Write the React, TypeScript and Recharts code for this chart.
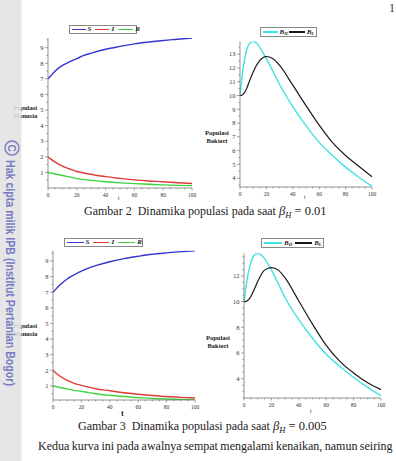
import React from 'react';
import { LineChart, Line, XAxis, YAxis } from 'recharts';

// Human model time grid and SIR trajectories
const tHuman = [0, 2, 5, 10, 15, 20, 25, 30, 40, 50, 60, 70, 80, 90, 100];
const sHigh = [7.0, 7.2, 7.5, 7.86, 8.1, 8.3, 8.5, 8.65, 8.9, 9.08, 9.24, 9.36, 9.46, 9.54, 9.62];
const iHigh = [2.0, 1.85, 1.66, 1.4, 1.22, 1.06, 0.96, 0.88, 0.73, 0.62, 0.52, 0.45, 0.4, 0.34, 0.29];
const rHigh = [1.0, 0.96, 0.9, 0.8, 0.71, 0.6, 0.54, 0.49, 0.4, 0.33, 0.28, 0.24, 0.2, 0.17, 0.15];
const sLow = [7.0, 7.2, 7.48, 7.85, 8.12, 8.35, 8.55, 8.7, 8.95, 9.15, 9.3, 9.43, 9.52, 9.6, 9.66];
const iLow = [2.0, 1.83, 1.62, 1.35, 1.17, 1.04, 0.92, 0.82, 0.69, 0.56, 0.47, 0.39, 0.32, 0.27, 0.23];
const rLow = [1.0, 0.96, 0.9, 0.8, 0.72, 0.65, 0.57, 0.5, 0.4, 0.32, 0.25, 0.2, 0.16, 0.13, 0.11];

// Bacteria model time grid and trajectories
const tBact = [0, 1, 2, 3, 5, 7, 10, 12, 15, 20, 25, 30, 40, 50, 60, 70, 80, 90, 100];
const bhHigh = [10, 10.9, 11.7, 12.35, 13.3, 13.75, 13.92, 13.85, 13.5, 12.66, 11.75, 10.8, 9.2, 7.82, 6.6, 5.65, 4.8, 4.07, 3.42];
const blHigh = [10, 10.0, 10.05, 10.15, 10.5, 11.0, 11.7, 12.1, 12.55, 12.83, 12.66, 12.18, 10.75, 9.27, 7.85, 6.6, 5.65, 4.87, 4.1];
const bhLow = [10, 10.8, 11.55, 12.15, 13.05, 13.55, 13.76, 13.68, 13.35, 12.47, 11.4, 10.3, 8.6, 7.15, 5.9, 4.95, 4.1, 3.35, 2.68];
const blLow = [10, 10.0, 10.05, 10.12, 10.4, 10.85, 11.56, 12.0, 12.45, 12.65, 12.45, 11.85, 10.05, 8.25, 6.6, 5.35, 4.45, 3.7, 3.15];

// Tick labels
const xMajor = [0, 20, 40, 60, 80, 100];
const humanYMajor = [1, 2, 3, 4, 5, 6, 7, 8, 9];
const bactHighYMajor = [4, 5, 6, 7, 8, 9, 10, 11, 12, 13];
const bactLowYMajor = [4, 6, 8, 10, 12];

const SERIF = '"Liberation Serif", "Times New Roman", serif';
const C_S = '#3535d0';
const C_I = '#e03a3a';
const C_R = '#3ed43e';
const C_BH = '#3fe3e3';
const C_BL = '#1a1a1a';
const AXIS = '#666';

const humanRows = (s: number[], i: number[], r: number[]) =>
  tHuman.map((t, k) => ({ t, S: s[k], I: i[k], R: r[k] }));
const bactRows = (bh: number[], bl: number[]) =>
  tBact.map((t, k) => ({ t, BH: bh[k], BL: bl[k] }));

const range = (a: number, b: number, step: number) => {
  const out: number[] = [];
  for (let v = a; v <= b + 1e-9; v += step) out.push(Math.round(v * 100) / 100);
  return out;
};

const isIn = (list: number[], v: number) => list.some((m) => Math.abs(m - v) < 1e-6);

const makeYTick = (majors: number[]) => (props: any) => {
  const { x, y, payload } = props;
  const v = payload.value;
  const major = isIn(majors, v);
  return (
    <g>
      <line x1={x - (major ? 3 : 1.6)} x2={x} y1={y} y2={y} stroke={AXIS} strokeWidth={0.6} />
      {major && (
        <text x={x - 4.5} y={y} dy="0.35em" textAnchor="end" fontSize={6.5} fontFamily={SERIF} fill="#333">
          {v}
        </text>
      )}
    </g>
  );
};

const XTick = (props: any) => {
  const { x, y, payload } = props;
  const v = payload.value;
  const major = isIn(xMajor, v);
  return (
    <g>
      <line x1={x} x2={x} y1={y} y2={y + (major ? 2.5 : 1.4)} stroke={AXIS} strokeWidth={0.6} />
      {major && (
        <text x={x} y={y + 8.5} textAnchor="middle" fontSize={5.5} fontFamily={SERIF} fill="#333">
          {v}
        </text>
      )}
    </g>
  );
};

const xMinorTicks = range(0, 100, 5);

type Item = { color: string; label: React.ReactNode; line: number; gap: number };

const LegendBox = ({ left, top, width, height, items, pad }: { left: number; top: number; width: number; height: number; items: Item[]; pad: number }) => (
  <div
    style={{
      position: 'absolute',
      left,
      top,
      width,
      height,
      boxSizing: 'border-box',
      border: '0.8px solid #888',
      display: 'flex',
      alignItems: 'center',
      paddingLeft: pad,
      fontFamily: SERIF,
      fontSize: 7,
      fontWeight: 'bold',
      fontStyle: 'italic',
      color: '#222',
      background: '#fff',
    }}
  >
    {items.map((it, k) => (
      <div key={k} style={{ display: 'flex', alignItems: 'center', marginRight: it.gap }}>
        <div style={{ width: it.line, height: 1.6, background: it.color, marginRight: 2 }} />
        <span style={{ lineHeight: '7px' }}>{it.label}</span>
      </div>
    ))}
  </div>
);

const Sub = ({ base, sub }: { base: string; sub: string }) => (
  <span>
    {base}
    <sub style={{ fontSize: 4.5, verticalAlign: 'baseline', position: 'relative', top: 1.5 }}>{sub}</sub>
  </span>
);

const AxisLabel = ({ left, top, lines, size }: { left: number; top: number; lines: string[]; size: number }) => (
  <div
    style={{
      position: 'absolute',
      left,
      top,
      fontFamily: SERIF,
      fontWeight: 'bold',
      fontSize: size,
      lineHeight: `${size + 1.5}px`,
      color: '#222',
      textAlign: 'center',
      whiteSpace: 'nowrap',
    }}
  >
    {lines.map((l, k) => (
      <div key={k}>{l}</div>
    ))}
  </div>
);

const HumanChart = ({ rows, domain, width, height, marginTop, marginRight, yWidth }: any) => (
  <LineChart width={width} height={height} data={rows} margin={{ top: marginTop, right: marginRight, bottom: 0, left: 0 }}>
    <XAxis
      dataKey="t"
      type="number"
      domain={[0, 100]}
      ticks={xMinorTicks}
      interval={0}
      tickSize={0}
      tickMargin={0}
      tickLine={false}
      tick={XTick}
      axisLine={{ stroke: AXIS, strokeWidth: 0.7 }}
      height={12}
    />
    <YAxis
      type="number"
      domain={domain}
      allowDataOverflow
      ticks={range(0.5, 9.5, 0.5).filter((v) => v >= domain[0] && v <= domain[1])}
      interval={0}
      tickSize={0}
      tickMargin={0}
      tickLine={false}
      tick={makeYTick(humanYMajor)}
      axisLine={{ stroke: AXIS, strokeWidth: 0.7 }}
      width={yWidth}
    />
    <Line type="monotone" dataKey="S" stroke={C_S} strokeWidth={1.4} dot={false} isAnimationActive={false} />
    <Line type="monotone" dataKey="I" stroke={C_I} strokeWidth={1.4} dot={false} isAnimationActive={false} />
    <Line type="monotone" dataKey="R" stroke={C_R} strokeWidth={1.4} dot={false} isAnimationActive={false} />
  </LineChart>
);

const BactChart = ({ rows, domain, majors, width, height, marginTop, marginRight, yWidth, xHeight }: any) => (
  <LineChart width={width} height={height} data={rows} margin={{ top: marginTop, right: marginRight, bottom: 0, left: 0 }}>
    <XAxis
      dataKey="t"
      type="number"
      domain={[0, 100]}
      ticks={xMinorTicks}
      interval={0}
      tickSize={0}
      tickMargin={0}
      tickLine={false}
      tick={XTick}
      axisLine={{ stroke: AXIS, strokeWidth: 0.7 }}
      height={xHeight}
    />
    <YAxis
      type="number"
      domain={domain}
      allowDataOverflow
      ticks={range(2.5, 14, 0.5).filter((v) => v >= domain[0] && v <= domain[1])}
      interval={0}
      tickSize={0}
      tickMargin={0}
      tickLine={false}
      tick={makeYTick(majors)}
      axisLine={{ stroke: AXIS, strokeWidth: 0.7 }}
      width={yWidth}
    />
    <Line type="monotone" dataKey="BH" stroke={C_BH} strokeWidth={1.4} dot={false} isAnimationActive={false} />
    <Line type="monotone" dataKey="BL" stroke={C_BL} strokeWidth={1.2} dot={false} isAnimationActive={false} />
  </LineChart>
);

const Caption = ({ left, top, num, value }: { left: number; top: number; num: string; value: string }) => (
  <div style={{ position: 'absolute', left, top, fontFamily: SERIF, fontSize: 12, whiteSpace: 'pre', color: '#222', lineHeight: '14px' }}>
    {`Gambar ${num}  Dinamika populasi pada saat `}
    <span style={{ fontSize: 12.5 }}>
      <i>β</i>
      <sub style={{ fontSize: 8.5, fontStyle: 'italic', verticalAlign: 'baseline', position: 'relative', top: 3 }}>H</sub>
      {` = ${value}`}
    </span>
  </div>
);

const abs = (left: number, top: number): React.CSSProperties => ({ position: 'absolute', left, top });

export default function App() {
  return (
    <div style={{ position: 'absolute', left: 0, top: 0, width: 396, height: 461, overflow: 'hidden', background: '#fff' }}>
      <div style={{ ...abs(389, 1), fontFamily: SERIF, fontSize: 12, color: '#333' }}>1</div>

      <div style={abs(0, 0)}>
        <HumanChart rows={humanRows(sHigh, iHigh, rHigh)} domain={[0, 9.62]} width={200} height={200} marginTop={38} marginRight={8} yWidth={48} />
      </div>
      <div style={abs(200, 0)}>
        <BactChart rows={bactRows(bhHigh, blHigh)} domain={[3.36, 13.92]} majors={bactHighYMajor} width={190} height={200} marginTop={41.5} marginRight={18} yWidth={40} xHeight={13} />
      </div>
      <div style={abs(0, 215)}>
        <HumanChart rows={humanRows(sLow, iLow, rLow)} domain={[0.1, 9.66]} width={205} height={197} marginTop={35.7} marginRight={10} yWidth={53} />
      </div>
      <div style={abs(200, 215)}>
        <BactChart rows={bactRows(bhLow, blLow)} domain={[2.5, 13.76]} majors={bactLowYMajor} width={190} height={196} marginTop={38.3} marginRight={9} yWidth={44} xHeight={13} />
      </div>

      <LegendBox
        left={69}
        top={25}
        width={68}
        height={9}
        pad={1.5}
        items={[
          { color: C_S, label: 'S', line: 14, gap: 4 },
          { color: C_I, label: 'I', line: 14, gap: 4 },
          { color: C_R, label: 'R', line: 15, gap: 0 },
        ]}
      />
      <LegendBox
        left={260}
        top={27}
        width={57}
        height={10}
        pad={1.5}
        items={[
          { color: C_BH, label: <Sub base="B" sub="H" />, line: 15, gap: 1 },
          { color: C_BL, label: <Sub base="B" sub="L" />, line: 16, gap: 0 },
        ]}
      />
      <LegendBox
        left={64}
        top={238}
        width={79}
        height={9}
        pad={1.5}
        items={[
          { color: C_S, label: 'S', line: 17, gap: 4 },
          { color: C_I, label: 'I', line: 16, gap: 4 },
          { color: C_R, label: 'R', line: 17, gap: 0 },
        ]}
      />
      <LegendBox
        left={261}
        top={238}
        width={63}
        height={10}
        pad={2}
        items={[
          { color: C_BH, label: <Sub base="B" sub="H" />, line: 18, gap: 3 },
          { color: C_BL, label: <Sub base="B" sub="L" />, line: 17, gap: 0 },
        ]}
      />

      <AxisLabel left={13} top={104} lines={['Populasi', 'Manusia']} size={6.5} />
      <AxisLabel left={205} top={129} lines={['Populasi', 'Bakteri']} size={6.5} />
      <AxisLabel left={13} top={322} lines={['Populasi', 'Manusia']} size={6.5} />
      <AxisLabel left={206} top={334} lines={['Populasi', 'Bakteri']} size={6.5} />

      <div style={{ ...abs(118, 195), fontFamily: SERIF, fontSize: 6, color: '#333' }}>t</div>
      <div style={{ ...abs(304, 194), fontFamily: SERIF, fontSize: 6, color: '#333' }}>t</div>
      <div style={{ ...abs(121, 409), fontFamily: SERIF, fontSize: 8, fontWeight: 'bold', color: '#222' }}>t</div>
      <div style={{ ...abs(310, 408), fontFamily: SERIF, fontSize: 6, color: '#333' }}>t</div>

      <Caption left={84} top={204} num="2" value="0.01" />
      <Caption left={78} top={419} num="3" value="0.005" />

      <div style={{ ...abs(38, 439), fontFamily: SERIF, fontSize: 12, whiteSpace: 'nowrap', color: '#222', lineHeight: '14px', wordSpacing: -0.6 }}>
        Kedua kurva ini pada awalnya sempat mengalami kenaikan, namun seiring
      </div>

      <svg width={22} height={461} style={{ position: 'absolute', left: 0, top: 0 }}>
        <rect x={0} y={0} width={21.5} height={461} fill="rgb(226,226,226)" fillOpacity={0.88} />
        <circle cx={12} cy={148} r={7} fill="none" stroke="#7a7ac4" strokeWidth={1.4} />
        <text
          x={12}
          y={148}
          transform="rotate(90 12 148)"
          textAnchor="middle"
          dy="0.36em"
          fontSize={10}
          fontWeight="bold"
          fontFamily='"Liberation Sans", Arial, sans-serif'
          fill="#7a7ac4"
        >
          C
        </text>
        <text
          x={160}
          y={-5.5}
          transform="rotate(90)"
          fontSize={13.5}
          fontWeight="bold"
          fontFamily='"Liberation Sans", Arial, sans-serif'
          fill="#7a7ac4"
          textLength={226}
          lengthAdjust="spacingAndGlyphs"
        >
          Hak cipta milik IPB (Institut Pertanian Bogor)
        </text>
      </svg>
    </div>
  );
}
